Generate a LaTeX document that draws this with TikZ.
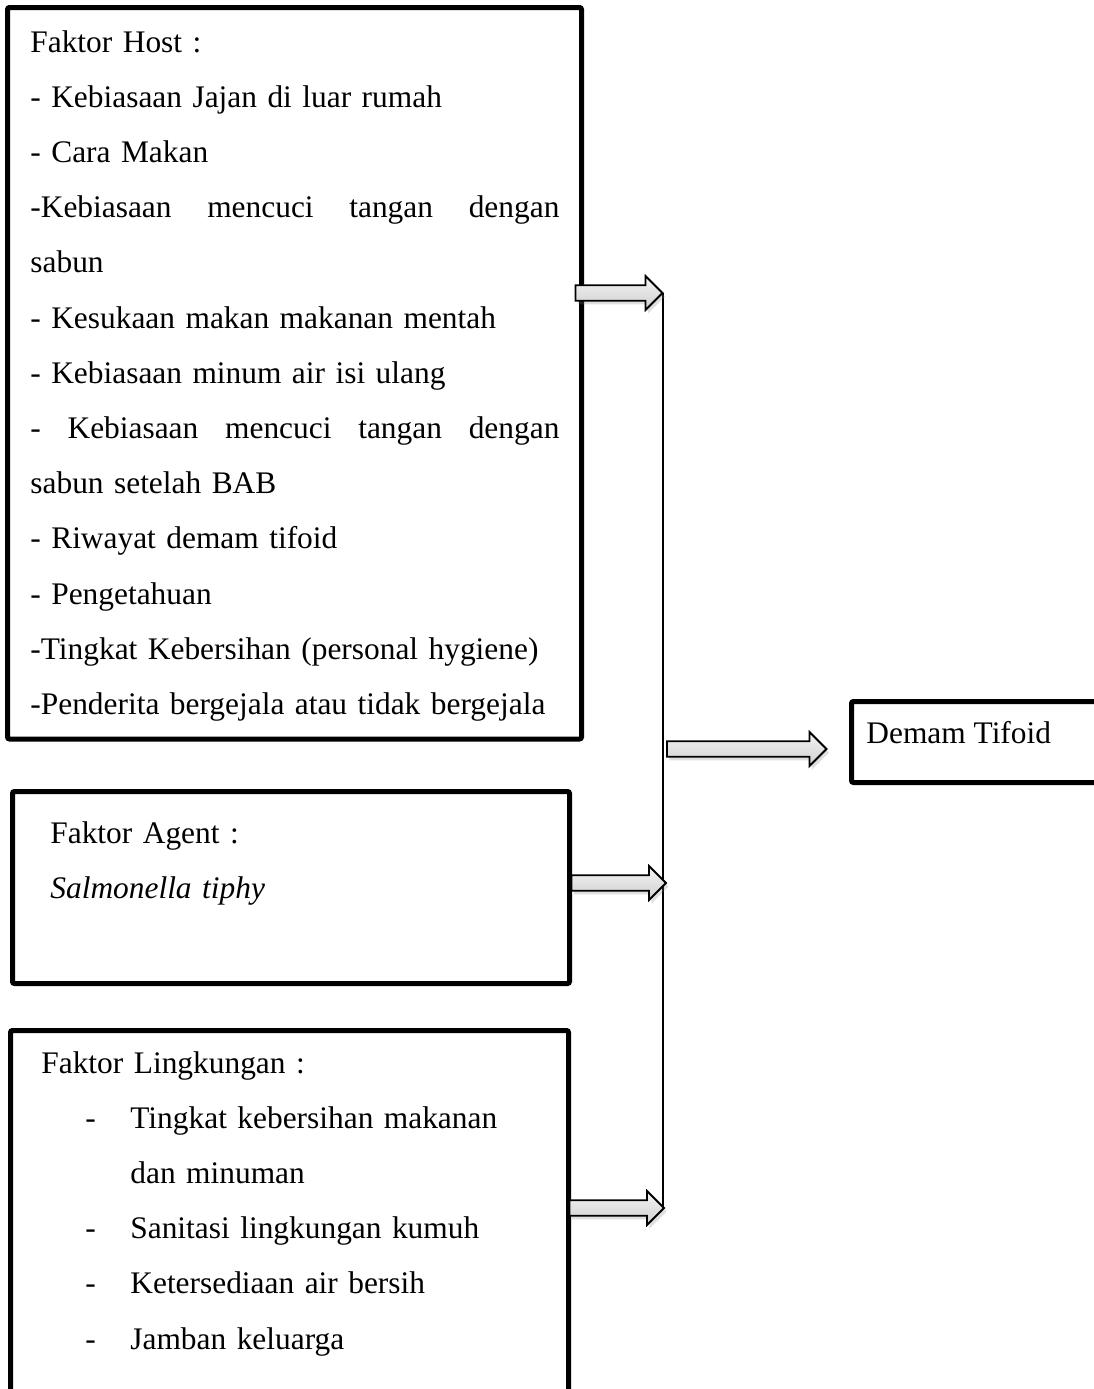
\documentclass[tikz,border=0pt]{standalone}
\usepackage{fontspec}
\setmainfont{Liberation Serif}
\usetikzlibrary{calc,shadows}

\tikzset{
  framebox/.style={draw, line width=2.5pt, rounded corners=1pt, inner sep=0pt},
  bodytext/.style={anchor=base west, inner sep=0pt, align=left, font=\fontsize{15.7pt}{27.6pt}\selectfont},
  fatarrow/.style={draw, line width=0.9pt, line join=miter, top color=gray!8, bottom color=gray!38,
    drop shadow={shadow xshift=1.2pt, shadow yshift=-1.8pt, opacity=0.25}},
}
\newcommand{\blockarrow}[2]{%
  \path[fatarrow] let \p1=(#1), \p2=(#2) in
    (\x1,\y1+3.9pt) -- (\x2-8.5pt,\y1+3.9pt) -- (\x2-8.5pt,\y1+8.5pt) -- (\x2,\y1)
    -- (\x2-8.5pt,\y1-8.5pt) -- (\x2-8.5pt,\y1-3.9pt) -- (\x1,\y1-3.9pt) -- cycle;}

\begin{document}
\begin{tikzpicture}[x=0.5pt,y=-0.5pt]
        \useasboundingbox (0,0) rectangle (1094,1389);
        \clip (0,0) rectangle (1094,1389);
        % boxes
        \node[framebox, minimum width=287pt, minimum height=365.75pt] (host) at (294.5,373.25) {};
        \node[framebox, minimum width=278.5pt, minimum height=96pt] (agent) at (291,887.5) {};
        \node[framebox, minimum width=279pt, minimum height=209.75pt] (ling) at (289.5,1240.25) {};
        \node[framebox, minimum width=150pt, minimum height=40.5pt] (demam) at (1001.5,742) {};
        % collecting line
        \coordinate (jtop) at (662.5,293);
        \coordinate (jmid) at (662.5,749);
        \coordinate (jagent) at (662.5,883);
        \coordinate (jbot) at (662.5,1208);
        \draw[line width=1pt] (jtop) -- (jbot);
        % arrows
        \blockarrow{$(host.east |- jtop)+(-4.25pt,0)$}{jtop}
        \blockarrow{$(agent.east |- jagent)+(-0.25pt,0)$}{$(jagent)+(1.75pt,0)$}
        \blockarrow{$(ling.east |- jbot)+(-0.75pt,0)$}{$(jbot)+(0.75pt,0)$}
        \blockarrow{$(jmid)+(2.25pt,0)$}{$(demam.west |- jmid)+(-11.25pt,0)$}
        % texts
        \node[bodytext, text width=264.5pt] (hosttxt) at (30,52) {Faktor Host :\\
          - Kebiasaan Jajan di luar rumah\\
          - Cara Makan\\
          \makebox[264.5pt]{-Kebiasaan\hfill mencuci\hfill tangan\hfill dengan}\\
          sabun\\
          - Kesukaan makan makanan mentah\\
          - Kebiasaan minum air isi ulang\\
          \makebox[264.5pt]{-\hfill Kebiasaan\hfill mencuci\hfill tangan\hfill dengan}\\
          sabun setelah BAB\\
          - Riwayat demam tifoid\\
          - Pengetahuan\\
          -Tingkat Kebersihan (personal hygiene)\\
          -Penderita bergejala atau tidak bergejala};
        \node[bodytext, text width=250pt] (agenttxt) at (50,843) {Faktor Agent :\\
          \textit{Salmonella tiphy}};
        \node[bodytext, text width=250pt] (lingtxt) at (41,1073) {Faktor Lingkungan :\\
          \hspace*{22pt}\makebox[22.5pt][l]{-}Tingkat kebersihan makanan\\
          \hspace*{44.5pt}dan minuman\\
          \hspace*{22pt}\makebox[22.5pt][l]{-}Sanitasi lingkungan kumuh\\
          \hspace*{22pt}\makebox[22.5pt][l]{-}Ketersediaan air bersih\\
          \hspace*{22pt}\makebox[22.5pt][l]{-}Jamban keluarga};
        \node[bodytext] (demamtxt) at (866,743) {Demam Tifoid};
\end{tikzpicture}
\end{document}
